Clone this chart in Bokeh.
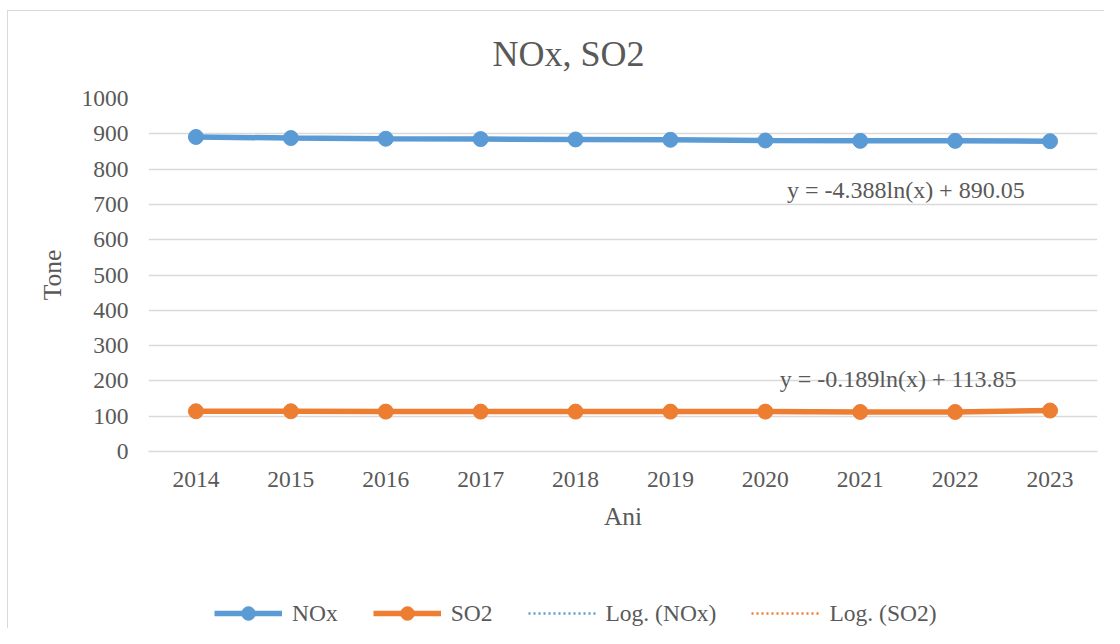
from bokeh.plotting import figure
from bokeh.layouts import column
from bokeh.models import (FactorRange, Range1d, Legend, LegendItem, Label,
                          FixedTicker, ColumnDataSource)
from bokeh.embed import file_html
from bokeh.resources import INLINE
import numpy as np

# ---- data ----
years = ["2014", "2015", "2016", "2017", "2018", "2019", "2020", "2021", "2022", "2023"]
nox = [891, 888, 886, 885, 884, 883, 881, 880, 880, 879]
so2 = [114, 114, 113, 113, 113, 113, 113, 112, 112, 116]
nox_trend_coef = (-4.388, 890.05)
so2_trend_coef = (-0.189, 113.85)
nox_eq = "y = -4.388ln(x) + 890.05"
so2_eq = "y = -0.189ln(x) + 113.85"
y_ticks = [0, 100, 200, 300, 400, 500, 600, 700, 800, 900, 1000]
series_labels = ["NOx", "SO2", "Log. (NOx)", "Log. (SO2)"]

BLUE = "#5B9BD5"
ORANGE = "#ED7D31"
TXT = "#595959"
GRID = "#D9D9D9"
FONT = "Liberation Serif"

W = 1104
H_MAIN = 570
H_LEG = 58

idx = np.arange(1, len(years) + 1)
nox_tr = nox_trend_coef[0] * np.log(idx) + nox_trend_coef[1]
so2_tr = so2_trend_coef[0] * np.log(idx) + so2_trend_coef[1]

src = ColumnDataSource(dict(year=years, nox=nox, so2=so2,
                            nox_tr=list(nox_tr), so2_tr=list(so2_tr)))

p = figure(width=W, height=H_MAIN,
           x_range=FactorRange(*years, range_padding=0),
           y_range=Range1d(0, 1000),
           output_backend="svg", toolbar_location=None,
           min_border_left=148, min_border_right=7,
           min_border_top=98, min_border_bottom=119)
p.border_fill_alpha = 0

p.title.text = "NOx, SO2"
p.title.align = "left"
p.title.offset = 344
p.title.text_font = FONT
p.title.text_font_size = "36px"
p.title.text_font_style = "normal"
p.title.text_color = TXT
p.title.standoff = 50

p.outline_line_color = None
p.xgrid.grid_line_color = None
p.ygrid.grid_line_color = GRID
p.ygrid.grid_line_width = 1.5
p.yaxis.ticker = FixedTicker(ticks=y_ticks)

for ax in (p.xaxis[0], p.yaxis[0]):
    ax.major_tick_line_color = None
    ax.minor_tick_line_color = None
    ax.major_tick_out = 0
    ax.major_tick_in = 0
    ax.minor_tick_out = 0
    ax.minor_tick_in = 0
    ax.major_label_text_font = FONT
    ax.major_label_text_font_size = "23.5px"
    ax.major_label_text_color = TXT
    ax.axis_label_text_font = FONT
    ax.axis_label_text_font_size = "25.5px"
    ax.axis_label_text_font_style = "normal"
    ax.axis_label_text_color = TXT

p.xaxis.axis_label = "Ani"
p.yaxis.axis_label = "Tone"
p.xaxis.axis_line_color = GRID
p.xaxis.axis_line_width = 1.5
p.yaxis.axis_line_color = None
p.yaxis.major_label_standoff = 20
p.xaxis.major_label_standoff = 20
p.yaxis.axis_label_standoff = 12
p.xaxis.axis_label_standoff = 12

# trendlines (below the series)
p.line("year", "nox_tr", source=src, line_color=BLUE, line_width=2.5, line_dash="2 3")
p.line("year", "so2_tr", source=src, line_color=ORANGE, line_width=2.5, line_dash="2 3")

p.line("year", "nox", source=src, line_color=BLUE, line_width=5.5)
p.scatter("year", "nox", source=src, size=15, fill_color=BLUE, line_color=BLUE)
p.line("year", "so2", source=src, line_color=ORANGE, line_width=5.5)
p.scatter("year", "so2", source=src, size=15, fill_color=ORANGE, line_color=ORANGE)

for txt, xx, yy in ((nox_eq, 7.98, 741), (so2_eq, 7.9, 206)):
    p.add_layout(Label(x=xx, y=yy, text=txt, text_align="center", text_baseline="middle",
                       text_font=FONT, text_font_size="24px", text_color=TXT))

# ---- legend strip (separate figure so it is never clipped) ----
pl = figure(width=W, height=H_LEG, x_range=Range1d(0, 1), y_range=Range1d(0, 1),
            output_backend="svg", toolbar_location=None,
            min_border_left=0, min_border_right=0, min_border_top=0, min_border_bottom=0)
pl.axis.visible = False
pl.grid.visible = False
pl.outline_line_color = None
pl.border_fill_alpha = 0
pl.background_fill_alpha = 0

# placeholder renderers (one NaN point, draws nothing) that only supply legend glyphs
nan_src = ColumnDataSource(dict(x=np.array([np.nan]), y=np.array([np.nan])))
e1 = pl.line("x", "y", source=nan_src, line_color=BLUE, line_width=5.5)
e1m = pl.scatter("x", "y", source=nan_src, size=15, fill_color=BLUE, line_color=BLUE)
e2 = pl.line("x", "y", source=nan_src, line_color=ORANGE, line_width=5.5)
e2m = pl.scatter("x", "y", source=nan_src, size=15, fill_color=ORANGE, line_color=ORANGE)
e3 = pl.line("x", "y", source=nan_src, line_color=BLUE, line_width=2.5, line_dash="2 3")
e4 = pl.line("x", "y", source=nan_src, line_color=ORANGE, line_width=2.5, line_dash="2 3")

legend = Legend(items=[LegendItem(label=series_labels[0], renderers=[e1, e1m]),
                       LegendItem(label=series_labels[1], renderers=[e2, e2m]),
                       LegendItem(label=series_labels[2], renderers=[e3]),
                       LegendItem(label=series_labels[3], renderers=[e4])],
                orientation="horizontal", location=(66, -2),
                glyph_width=68, glyph_height=34, label_height=34,
                label_standoff=10, spacing=35, padding=0, margin=0,
                border_line_color=None, background_fill_alpha=0,
                label_text_font=FONT, label_text_font_size="23.5px",
                label_text_color=TXT)
pl.add_layout(legend, "center")

layout = column(p, pl, spacing=0)
layout.styles = {
    "background": "linear-gradient(#d9d9d9, #d9d9d9) 7px 10px / 1px 100% no-repeat, "
                  "linear-gradient(#d9d9d9, #d9d9d9) 7px 10px / 100% 1px no-repeat, #ffffff"
}

open("out.html", "w").write(file_html(layout, INLINE))
